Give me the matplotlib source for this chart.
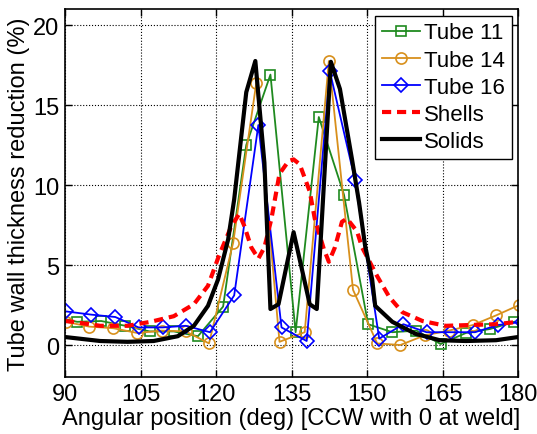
import matplotlib.pyplot as plt

# Tube measurements (angle in deg, reduction in %)
tube11_x = [87.6, 92.4, 97.2, 102.0, 106.8, 111.6, 116.4, 121.4, 126.0, 130.8, 135.8,
            140.4, 145.4, 150.2, 155.0, 159.8, 164.6, 169.6, 174.4, 179.2]
tube11_y = [1.8, 1.45, 1.5, 1.2, 0.85, 0.85, 0.55, 2.4, 12.5, 16.9, 0.8,
            14.25, 9.4, 1.3, 0.8, 0.9, 0.06, 0.75, 1.0, 1.45]

tube14_x = [90.2, 94.8, 99.6, 104.4, 109.2, 114.0, 118.6, 123.4, 128.0, 132.6, 137.6,
            142.4, 147.2, 152.0, 156.6, 161.4, 166.2, 171.0, 175.6, 180.2]
tube14_y = [1.45, 1.15, 1.05, 0.75, 0.9, 0.85, 0.1, 6.4, 16.4, 0.2, 0.8,
            17.75, 3.45, 0.1, 0.0, 0.6, 0.9, 1.25, 1.85, 2.5]

tube16_x = [90.2, 95.2, 100.0, 104.6, 109.4, 114.0, 118.8, 123.6, 128.4, 133.0, 138.0,
            142.6, 147.6, 152.4, 157.2, 161.8, 166.6, 171.4, 176.0, 180.8]
tube16_y = [2.1, 1.9, 1.75, 1.1, 1.1, 1.2, 0.8, 3.1, 13.75, 1.1, 0.25,
            17.1, 10.3, 0.4, 1.3, 0.8, 0.8, 0.8, 1.25, 1.45]

# Simulation results
shells_x = [90.0, 91.6, 97.0, 102.4, 107.0, 111.6, 115.6, 118.4, 120.6, 123.0, 124.6,
            125.6, 127.0, 128.4, 129.6, 131.0, 132.6, 134.4, 135.4, 136.6, 138.6,
            139.6, 141.4, 142.4, 143.6, 145.0, 146.0, 148.0, 149.0, 152.0, 154.4,
            157.0, 161.0, 165.6, 170.4, 175.6, 180.0]
shells_y = [1.5, 1.45, 1.2, 1.2, 1.45, 1.8, 2.55, 3.7, 5.6, 7.4, 8.2,
            7.45, 6.1, 5.4, 6.1, 7.9, 10.7, 11.5, 11.6, 11.3, 9.6,
            7.9, 6.0, 5.2, 6.1, 7.7, 7.9, 7.1, 6.1, 4.3, 3.0,
            2.05, 1.5, 1.2, 1.25, 1.3, 1.45]

solids_x = [90.0, 97.0, 102.4, 107.6, 112.4, 115.6, 118.4, 120.4, 122.4, 123.6, 126.0,
            127.8, 129.6, 130.8, 132.4, 135.4, 138.6, 140.0, 142.8, 144.6, 147.0,
            148.4, 149.6, 151.0, 151.6, 155.0, 159.6, 164.4, 169.6, 175.6, 180.0]
solids_y = [0.5, 0.25, 0.2, 0.25, 0.55, 1.2, 2.45, 4.1, 6.6, 9.1, 15.8,
            17.75, 11.4, 2.25, 2.55, 7.05, 2.55, 2.25, 17.7, 16.0, 11.6,
            8.9, 6.2, 4.1, 2.45, 1.45, 0.7, 0.3, 0.25, 0.3, 0.5]

plt.rcParams['font.family'] = ['Liberation Sans', 'DejaVu Sans']
plt.rcParams['font.size'] = 17

fig = plt.figure(figsize=(5.37, 4.35), dpi=100)
ax = fig.add_axes([0.121, 0.131, 0.844, 0.846])

ax.plot(tube11_x, tube11_y, color='#1f8a1f', lw=1.3, marker='s', ms=7,
        mfc='none', mew=1.2, label='Tube 11')
ax.plot(tube14_x, tube14_y, color='#d8901c', lw=1.3, marker='o', ms=8,
        mfc='none', mew=1.2, label='Tube 14')
ax.plot(tube16_x, tube16_y, color='#0000ff', lw=1.3, marker='D', ms=7,
        mfc='none', mew=1.2, label='Tube 16')
ax.plot(shells_x, shells_y, color='#ff0000', lw=3, linestyle=(0, (2.2, 1.4)),
        label='Shells')
ax.plot(solids_x, solids_y, color='black', lw=3, label='Solids')

ax.set_xlim(90, 180)
ax.set_ylim(-2, 21)
ax.set_xticks([90, 105, 120, 135, 150, 165, 180])
ax.set_yticks([0, 5, 10, 15, 20])
ax.tick_params(direction='in', top=True, right=True, length=5, width=1, pad=4)
ax.grid(True, color='black', linestyle=':', linewidth=0.8)
for s in ax.spines.values():
    s.set_linewidth(1.2)

ax.set_xlabel('Angular position (deg) [CCW with 0 at weld]', labelpad=2)
ax.set_ylabel('Tube wall thickness reduction (%)', labelpad=2)

leg = ax.legend(loc='upper right', fancybox=False, framealpha=1, fontsize=16,
                edgecolor='black', handlelength=1.7, handletextpad=0.2,
                borderpad=0.3, labelspacing=0.28, borderaxespad=0.3)
leg.get_frame().set_linewidth(1.0)

plt.savefig('out.png', dpi=100)
